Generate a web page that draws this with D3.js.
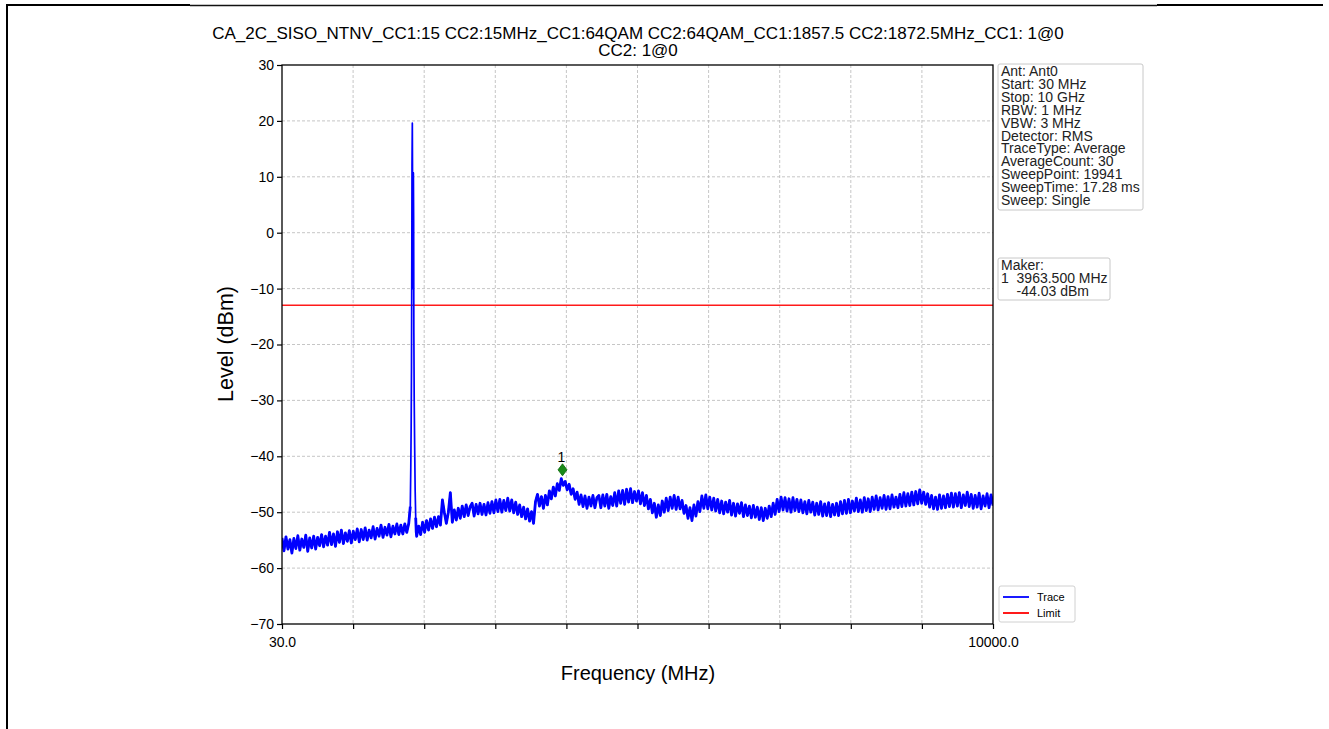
<!DOCTYPE html>
<html>
<head>
<meta charset="utf-8">
<script src="https://cdn.jsdelivr.net/npm/d3@7"></script>
<style>
body { margin: 0; background: #fff; }
svg { display: block; font-family: "Liberation Sans", Arial, sans-serif; }
</style>
</head>
<body>
<script>
// sweep: evenly spaced points from start to stop (MHz), level in dBm
const sweepStart = 30;
const sweepStop = 10000;
const traceLevels = [
  -54.6,-56.9,-54.4,-56.6,-54.9,-57.3,-54.7,-56.5,-54.2,-56.8,-54.8,-56.3,-54.1,-57.0,-54.6,-56.4,-54.3,-56.6,-54.5,-56.0,
  -54.0,-56.2,-54.3,-55.9,-53.6,-55.8,-53.9,-56.1,-53.5,-55.4,-53.2,-55.6,-53.7,-55.2,-53.3,-55.5,-53.4,-54.9,-53.0,-55.3,
  -53.1,-54.9,-52.8,-55.0,-53.2,-54.6,-52.6,-54.8,-52.9,-54.3,-52.3,-54.5,-52.7,-54.1,-52.2,-54.4,-52.5,-53.9,-52.1,-54.0,
  -52.3,-53.9,-52.1,-53.6,-52.0,-52.4,-52.0,-53.0,-54.3,-52.5,-54.0,-51.8,-53.6,-51.5,-53.2,-51.2,-52.9,-50.9,-52.6,-50.8,
  -52.3,-47.8,-50.1,-52.0,-50.0,-46.5,-51.8,-49.6,-51.4,-49.3,-51.1,-48.9,-50.8,-48.7,-50.6,-49.0,-48.4,-50.7,-48.6,-50.3,
  -48.4,-50.4,-48.6,-50.5,-48.3,-50.2,-48.1,-50.1,-47.8,-49.9,-47.7,-50.0,-47.9,-49.7,-47.5,-49.8,-47.8,-50.1,-48.2,-50.4,
  -48.7,-50.8,-49.1,-51.2,-49.4,-51.6,-49.9,-52.0,-48.1,-46.8,-48.9,-47.2,-49.3,-47.0,-48.7,-46.2,-47.6,-45.5,-47.1,-44.9,
  -46.1,-44.0,-45.2,-44.5,-46.0,-45.0,-46.8,-45.8,-47.7,-46.4,-48.6,-46.9,-49.0,-47.1,-49.3,-47.3,-48.9,-47.0,-49.2,-47.4,
  -47.0,-49.2,-46.9,-48.9,-46.8,-49.3,-47.2,-48.8,-46.5,-48.9,-46.2,-48.4,-46.1,-48.6,-45.9,-48.2,-45.8,-48.3,-46.3,-48.0,
  -46.2,-48.5,-46.5,-48.8,-47.0,-49.4,-47.7,-50.1,-48.4,-50.9,-48.7,-50.6,-48.0,-50.0,-47.5,-49.7,-47.3,-49.3,-47.0,-49.5,
  -47.3,-49.4,-47.9,-50.2,-48.8,-51.1,-49.2,-51.5,-48.7,-50.7,-48.1,-49.9,-47.1,-49.3,-46.9,-49.4,-47.3,-49.6,-47.5,-49.8,
  -47.7,-50.1,-48.0,-50.3,-48.2,-50.0,-47.9,-50.5,-48.4,-50.7,-48.5,-50.2,-48.3,-50.8,-48.7,-50.6,-48.9,-51.0,-48.8,-50.9,
  -49.1,-51.3,-49.2,-51.5,-49.3,-51.1,-48.9,-50.8,-48.4,-50.4,-47.7,-49.9,-47.3,-49.6,-47.4,-49.8,-47.6,-50.0,-47.4,-49.7,
  -47.7,-49.9,-47.8,-50.1,-48.1,-50.3,-47.9,-50.0,-48.2,-50.5,-48.4,-50.4,-48.1,-50.7,-48.5,-50.6,-48.3,-50.8,-48.6,-50.5,
  -48.4,-50.6,-48.1,-50.3,-47.9,-50.2,-47.7,-50.1,-48.0,-49.8,-47.5,-49.9,-47.8,-50.0,-47.4,-49.7,-47.6,-49.9,-47.3,-49.5,
  -47.1,-49.6,-47.4,-49.3,-47.0,-49.5,-47.2,-49.4,-46.9,-49.1,-47.3,-49.2,-46.8,-49.0,-46.5,-48.9,-46.7,-48.8,-46.4,-48.7,
  -46.3,-48.5,-46.0,-48.4,-46.4,-48.6,-46.7,-49.1,-47.0,-49.4,-47.3,-49.5,-46.9,-49.3,-47.1,-49.2,-46.8,-49.0,-46.6,-49.1,
  -46.7,-48.9,-46.5,-49.2,-46.9,-48.8,-46.4,-49.0,-46.8,-49.3,-47.0,-49.1,-46.6,-49.4,-47.1,-48.9,-46.7,-49.2,-46.9,-48.8
];

// carriers CC1 1857.5 / CC2 1872.5 MHz, finer samples replacing the sweep grid there
const spikeWindow = [1810, 1915];
const spikeFreq  = [1829, 1836, 1841, 1846, 1850, 1853, 1857.5, 1861, 1864, 1866, 1869, 1872.5, 1876, 1879, 1884, 1890, 1897, 1905, 1912];
const spikeLevel = [-49, -42, -35, -24, -5, 12, 19.6, 8, -10, -3, 6, 10.7, 2, -18, -30, -38, -46, -51, -53.5];

const limitLevel = -13;
const markerFreq = 3963.5;
const markerLevel = -44.03;

const yTicks = [-70, -60, -50, -40, -30, -20, -10, 0, 10, 20, 30];
const xTicks = [30, 1027, 2024, 3021, 4018, 5015, 6012, 7009, 8006, 9003, 10000];
const xTickLabels = ["30.0", "", "", "", "", "", "", "", "", "", "10000.0"];

const titleLines = [
  "CA_2C_SISO_NTNV_CC1:15 CC2:15MHz_CC1:64QAM CC2:64QAM_CC1:1857.5 CC2:1872.5MHz_CC1: 1@0",
  "CC2: 1@0"
];
const infoLines = [
  "Ant: Ant0", "Start: 30 MHz", "Stop: 10 GHz", "RBW: 1 MHz", "VBW: 3 MHz", "Detector: RMS",
  "TraceType: Average", "AverageCount: 30", "SweepPoint: 19941", "SweepTime: 17.28 ms", "Sweep: Single"
];
const makerLines = ["Maker:", "1  3963.500 MHz", "    -44.03 dBm"];
const legendNames = ["Trace", "Limit"];
const legendColors = ["#0000ff", "#ff0000"];

// ---- build trace points ----
const step = (sweepStop - sweepStart) / (traceLevels.length - 1);
let trace = traceLevels.map((v, i) => ({f: sweepStart + i * step, v: v}))
  .filter(d => d.f < spikeWindow[0] || d.f > spikeWindow[1]);
spikeFreq.forEach((f, i) => trace.push({f: f, v: spikeLevel[i]}));
trace.sort((a, b) => a.f - b.f);

const W = 1329, H = 729;
const plot = {left: 282, right: 993, top: 65, bottom: 624};

const svg = d3.select("body").append("svg")
  .attr("width", W).attr("height", H);

// page frame (document border)
svg.append("line").attr("x1", 7).attr("x2", 7).attr("y1", 5).attr("y2", H)
  .attr("stroke", "#000").attr("stroke-width", 2);
svg.append("line").attr("x1", 6).attr("x2", 190).attr("y1", 5).attr("y2", 5)
  .attr("stroke", "#000").attr("stroke-width", 2);
svg.append("line").attr("x1", 1157).attr("x2", 1323).attr("y1", 5).attr("y2", 5)
  .attr("stroke", "#000").attr("stroke-width", 2);
svg.append("line").attr("x1", 190).attr("x2", 1157).attr("y1", 5.5).attr("y2", 5.5)
  .attr("stroke", "#111").attr("stroke-width", 1.5);

const x = d3.scaleLinear().domain([sweepStart, sweepStop]).range([plot.left, plot.right]);
const y = d3.scaleLinear().domain([-70, 30]).range([plot.bottom, plot.top]);

// grid
const grid = svg.append("g").attr("stroke", "#b8b8b8").attr("stroke-width", 0.8)
  .attr("stroke-dasharray", "3,2");
grid.selectAll(".gx").data(xTicks.slice(1, -1)).enter().append("line")
  .attr("x1", d => x(d)).attr("x2", d => x(d))
  .attr("y1", plot.top).attr("y2", plot.bottom);
grid.selectAll(".gy").data(yTicks.slice(1, -1)).enter().append("line")
  .attr("x1", plot.left).attr("x2", plot.right)
  .attr("y1", d => y(d)).attr("y2", d => y(d));

// clip
svg.append("clipPath").attr("id", "clip").append("rect")
  .attr("x", plot.left).attr("y", plot.top)
  .attr("width", plot.right - plot.left).attr("height", plot.bottom - plot.top);

// limit line
svg.append("line")
  .attr("x1", x(sweepStart)).attr("x2", x(sweepStop))
  .attr("y1", y(limitLevel)).attr("y2", y(limitLevel))
  .attr("stroke", "#ff1a1a").attr("stroke-width", 1.5);

// trace: thin pass for the whole sweep, heavier pass for the noise floor
const line = d3.line().x(d => x(d.f)).y(d => y(d.v));
const floorLine = d3.line().x(d => x(d.f)).y(d => y(d.v))
  .defined(d => d.f < 1832 || d.f > 1900);
svg.append("path").datum(trace)
  .attr("clip-path", "url(#clip)")
  .attr("fill", "none").attr("stroke", "#0000ff")
  .attr("stroke-width", 1.7).attr("stroke-linejoin", "round")
  .attr("d", line);
svg.append("path").datum(trace)
  .attr("clip-path", "url(#clip)")
  .attr("fill", "none").attr("stroke", "#0000ff")
  .attr("stroke-width", 2.8).attr("stroke-linejoin", "round")
  .attr("d", floorLine);

// marker
const mx = x(markerFreq), my = y(markerLevel) - 9;
svg.append("path")
  .attr("d", `M${mx},${my - 6}L${mx + 4.5},${my}L${mx},${my + 6}L${mx - 4.5},${my}Z`)
  .attr("fill", "#1a8a1a").attr("stroke", "#0a6a0a").attr("stroke-width", 0.8);
svg.append("text").attr("x", mx - 1).attr("y", my - 8)
  .attr("text-anchor", "middle").attr("font-size", 14).text("1");

// frame
svg.append("rect")
  .attr("x", plot.left).attr("y", plot.top)
  .attr("width", plot.right - plot.left).attr("height", plot.bottom - plot.top)
  .attr("fill", "none").attr("stroke", "#000").attr("stroke-width", 1.3);

// axes
const yAxis = svg.append("g").attr("transform", `translate(${plot.left},0)`)
  .call(d3.axisLeft(y).tickValues(yTicks).tickSize(5).tickPadding(3));
const xAxis = svg.append("g").attr("transform", `translate(0,${plot.bottom})`)
  .call(d3.axisBottom(x).tickValues(xTicks).tickFormat((d, i) => xTickLabels[i])
    .tickSize(5).tickPadding(8));
[xAxis, yAxis].forEach(a => {
  a.select(".domain").remove();
  a.selectAll("text").attr("font-size", 14).attr("font-family", "Liberation Sans, Arial, sans-serif")
    .attr("fill", "#000");
  a.selectAll("line").attr("stroke", "#000").attr("stroke-width", 1.2);
});

// title
svg.selectAll(".title").data(titleLines).enter().append("text")
  .attr("x", 638).attr("y", (d, i) => 39 + i * 17)
  .attr("text-anchor", "middle").attr("font-size", 17).text(d => d);

// axis labels
svg.append("text").attr("x", 638).attr("y", 680)
  .attr("text-anchor", "middle").attr("font-size", 20).text("Frequency (MHz)");
svg.append("text").attr("transform", "translate(233,344) rotate(-90)")
  .attr("text-anchor", "middle").attr("font-size", 21.5).text("Level (dBm)");

// info box
function textBox(lines, bx, by, bw, bh, firstBase) {
  svg.append("rect").attr("x", bx).attr("y", by).attr("width", bw).attr("height", bh)
    .attr("rx", 2).attr("fill", "#fff").attr("stroke", "#c8c8c8").attr("stroke-width", 1);
  svg.append("g").selectAll("text").data(lines).enter().append("text")
    .attr("x", bx + 3).attr("y", (d, i) => firstBase + i * 12.9)
    .attr("font-size", 14).attr("fill", "#222")
    .attr("xml:space", "preserve").style("white-space", "pre").text(d => d);
}
textBox(infoLines, 998, 64, 145, 146, 76);
textBox(makerLines, 998, 258, 112, 42, 270);

// legend
svg.append("rect").attr("x", 999).attr("y", 586).attr("width", 76).attr("height", 36)
  .attr("rx", 2).attr("fill", "#fff").attr("stroke", "#d0d0d0");
legendNames.forEach((n, i) => {
  const ly = 597 + i * 16;
  svg.append("line").attr("x1", 1003).attr("x2", 1029).attr("y1", ly).attr("y2", ly)
    .attr("stroke", legendColors[i]).attr("stroke-width", 1.8);
  svg.append("text").attr("x", 1037).attr("y", ly + 4).attr("font-size", 11).text(n);
});
</script>
</body>
</html>
